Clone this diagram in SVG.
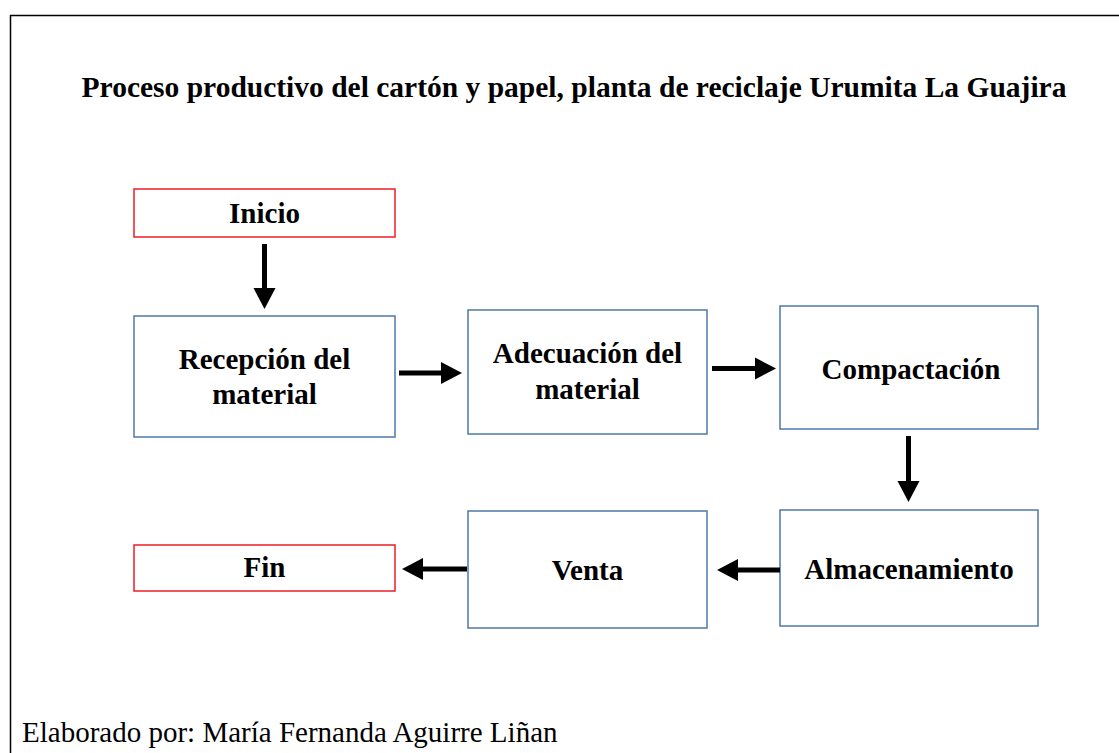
<svg xmlns="http://www.w3.org/2000/svg" width="1119" height="753" viewBox="0 0 1119 753">
<defs>
<style>
.blue{fill:#fff;stroke:#4f7aa8;stroke-width:1.5}
.red{fill:#fff;stroke:#ee1c24;stroke-width:1.5}
.t{font-weight:bold;font-size:29px;fill:#000;text-anchor:middle}
.c{stroke:#000;stroke-width:5;fill:none}
</style>
<marker id="ah" markerWidth="5" markerHeight="5" refX="1" refY="2.5" orient="auto" markerUnits="strokeWidth">
<path d="M0,0.3 L4.2,2.5 L0,4.7 Z" fill="#000"/>
</marker>
</defs>
<rect width="1119" height="753" fill="#fff"/>
<path d="M10.5,753 V15.5 H1119" fill="none" stroke="#000" stroke-width="1.5"/>
<text x="574" y="97" class="t" font-family="Liberation Serif, serif" style="font-size:29.5px">Proceso productivo del cartón y papel, planta de reciclaje Urumita La Guajira</text>
<g id="inicio"><rect x="134" y="189" width="261" height="48" class="red"/><text x="264.5" y="223" class="t" font-family="Liberation Serif, serif">Inicio</text></g>
<g id="recepcion"><rect x="134" y="316" width="261" height="121" class="blue"/><text x="264.5" y="369" class="t" font-family="Liberation Serif, serif">Recepción del</text><text x="264.5" y="404" class="t" font-family="Liberation Serif, serif">material</text></g>
<g id="adecuacion"><rect x="468" y="310" width="239" height="124" class="blue"/><text x="587.5" y="363" class="t" font-family="Liberation Serif, serif">Adecuación del</text><text x="587.5" y="399" class="t" font-family="Liberation Serif, serif">material</text></g>
<g id="compactacion"><rect x="780" y="306" width="258" height="123" class="blue"/><text x="911" y="379" class="t" font-family="Liberation Serif, serif">Compactación</text></g>
<g id="almacenamiento"><rect x="780" y="510" width="258" height="116" class="blue"/><text x="909" y="579" class="t" font-family="Liberation Serif, serif">Almacenamiento</text></g>
<g id="venta"><rect x="468" y="511" width="239" height="117" class="blue"/><text x="587.5" y="580" class="t" font-family="Liberation Serif, serif">Venta</text></g>
<g id="fin"><rect x="134" y="545" width="261" height="46" class="red"/><text x="264.5" y="577" class="t" font-family="Liberation Serif, serif">Fin</text></g>
<g id="connectors">
<line x1="264.5" y1="244" x2="264.5" y2="293" class="c" marker-end="url(#ah)"/>
<line x1="399" y1="373" x2="446" y2="373" class="c" marker-end="url(#ah)"/>
<line x1="712" y1="368.5" x2="760" y2="368.5" class="c" marker-end="url(#ah)"/>
<line x1="908.5" y1="436" x2="908.5" y2="486" class="c" marker-end="url(#ah)"/>
<line x1="780" y1="570" x2="733" y2="570" class="c" marker-end="url(#ah)"/>
<line x1="467" y1="569" x2="418" y2="569" class="c" marker-end="url(#ah)"/>
</g>
<text x="22" y="742" font-family="Liberation Serif, serif" font-size="29" fill="#000">Elaborado por: María Fernanda Aguirre Liñan</text>
</svg>
